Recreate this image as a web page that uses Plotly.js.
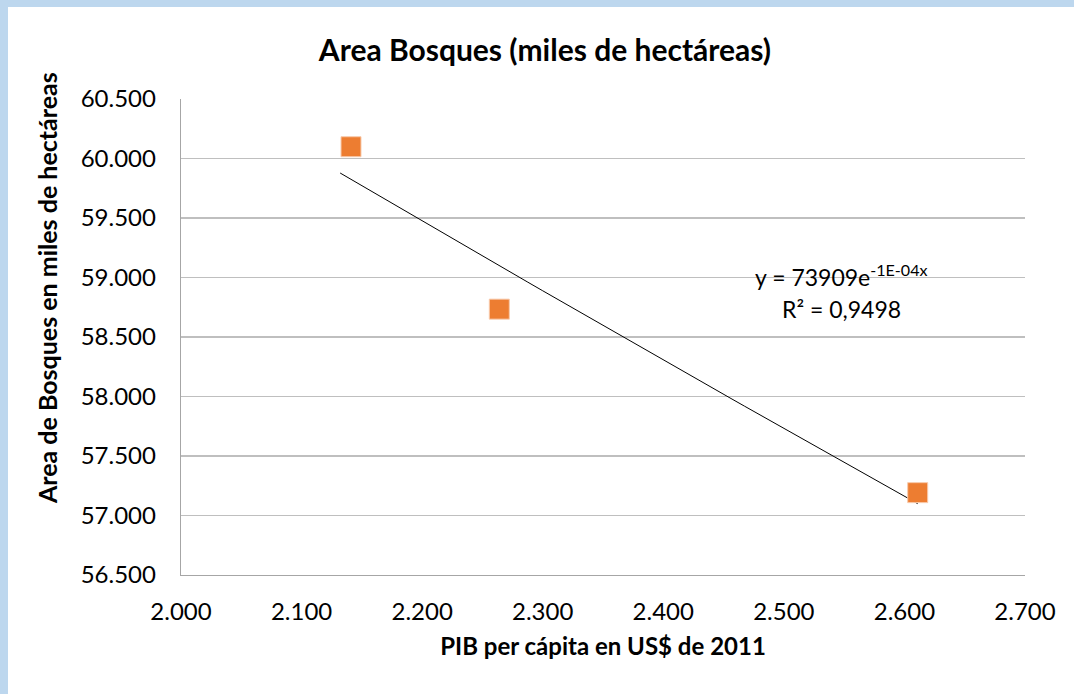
<!DOCTYPE html>
<html>
<head>
<meta charset="utf-8">
<script src="https://cdn.plot.ly/plotly-3.0.1.min.js"></script>
<style>
  html, body { margin: 0; padding: 0; background: #ffffff; }
  #wrap { width: 1066px; height: 687px; border-left: 8px solid #BDD7EE; border-top: 7px solid #BDD7EE; }
  #chart { width: 1066px; height: 687px; }
</style>
</head>
<body>
<div id="wrap"><div id="chart"></div></div>
<script>
// Data
const pibPerCapita = [2141, 2264, 2611];          // PIB per cápita en US$ de 2011
const areaBosques = [60099, 58734, 57192];        // miles de hectáreas
const trendStartX = 2132;                          // trendline drawn from here to the last point
const xTicks = [2000, 2100, 2200, 2300, 2400, 2500, 2600, 2700];
const yTicks = [56500, 57000, 57500, 58000, 58500, 59000, 59500, 60000, 60500];
const equationText = 'y = 73909e<sup>-1E-04x</sup>';
const r2Text = 'R² = 0,9498';

// Exponential least-squares fit (as a spreadsheet trendline does)
const n = pibPerCapita.length;
const lny = areaBosques.map(v => Math.log(v));
const mx = pibPerCapita.reduce((a, b) => a + b, 0) / n;
const my = lny.reduce((a, b) => a + b, 0) / n;
let sxy = 0, sxx = 0;
for (let i = 0; i < n; i++) { sxy += (pibPerCapita[i] - mx) * (lny[i] - my); sxx += (pibPerCapita[i] - mx) ** 2; }
const bFit = sxy / sxx;
const aFit = Math.exp(my - bFit * mx);
const xEnd = Math.max(...pibPerCapita);
const trendX = [], trendY = [];
const steps = 40;
for (let k = 0; k <= steps; k++) {
  const xv = trendStartX + (xEnd - trendStartX) * k / steps;
  trendX.push(xv);
  trendY.push(aFit * Math.exp(bFit * xv));
}

const FONT = 'Lato, "Open Sans", sans-serif';

const traces = [
  {
    type: 'scatter', mode: 'lines', x: trendX, y: trendY,
    line: { color: '#000000', width: 1 }, hoverinfo: 'skip', showlegend: false
  },
  {
    type: 'scatter', mode: 'markers', x: pibPerCapita, y: areaBosques,
    marker: { symbol: 'square', size: 20, color: '#ED7D31', line: { color: '#F8CBAD', width: 1 } },
    showlegend: false
  }
];

const layout = {
  width: 1066, height: 687,
  margin: { l: 173, r: 49, t: 92, b: 119 },
  paper_bgcolor: '#ffffff', plot_bgcolor: '#ffffff',
  separators: ',.',
  font: { family: FONT, color: '#000000', size: 24 },
  title: {
    text: '<b>Area Bosques (miles de hectáreas)</b>',
    font: { family: FONT, size: 30, color: '#000000' },
    x: 0.5037, xref: 'container', xanchor: 'center',
    y: 0.9374, yref: 'container', yanchor: 'middle'
  },
  xaxis: {
    range: [2000, 2700], tickvals: xTicks, tickformat: ',.0f',
    showgrid: false, zeroline: false,
    showline: true, linecolor: '#A6A6A6', linewidth: 1.3,
    ticks: '', ticklabelstandoff: 15,
    tickfont: { family: FONT, size: 24, color: '#000000' },
    title: { text: '<b>PIB per cápita en US$ de 2011</b>', font: { family: FONT, size: 24, color: '#000000' }, standoff: 14 }
  },
  yaxis: {
    range: [56500, 60500], tickvals: yTicks, tickformat: ',.0f',
    showgrid: true, gridcolor: '#BFBFBF', gridwidth: 1.3, zeroline: false,
    showline: true, linecolor: '#A6A6A6', linewidth: 1.3,
    ticks: '', ticklabelstandoff: 19,
    tickfont: { family: FONT, size: 24, color: '#000000' }
  },
  annotations: [
    {
      text: '<b>Area de Bosques en miles de hectáreas</b>', textangle: -90,
      xref: 'paper', yref: 'paper', x: -0.1586, y: 0.603,
      xanchor: 'center', yanchor: 'middle', showarrow: false,
      font: { family: FONT, size: 25, color: '#000000' }
    },
    {
      text: equationText, xref: 'x', yref: 'y', x: 2547.7, y: 59020,
      xanchor: 'center', yanchor: 'middle', showarrow: false,
      font: { family: FONT, size: 23, color: '#000000' }
    },
    {
      text: r2Text, xref: 'x', yref: 'y', x: 2547.7, y: 58736,
      xanchor: 'center', yanchor: 'middle', showarrow: false,
      font: { family: FONT, size: 23, color: '#000000' }
    }
  ]
};

Plotly.newPlot('chart', traces, layout, { displayModeBar: false, staticPlot: true });
</script>
</body>
</html>
